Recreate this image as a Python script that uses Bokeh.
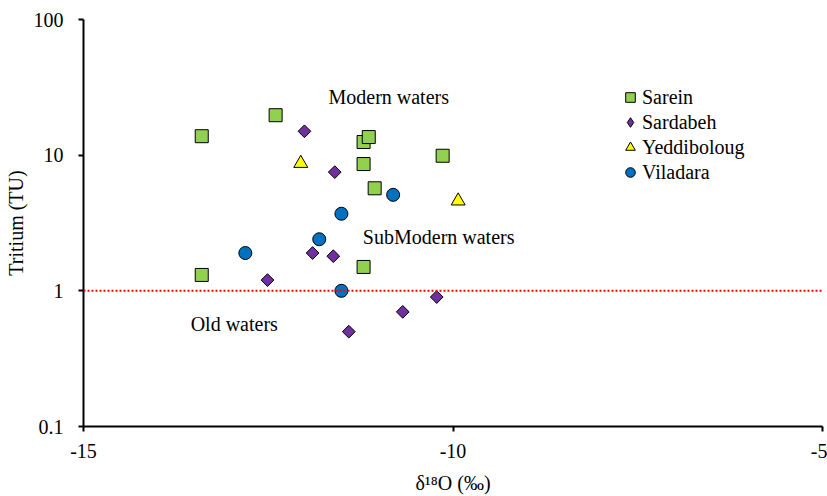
from bokeh.plotting import figure
from bokeh.models import Range1d, FixedTicker, NumeralTickFormatter, Legend, LegendItem, Span, ColumnDataSource
from bokeh.core.properties import value
from bokeh.embed import file_html
from bokeh.resources import INLINE
import math

FONT = "Liberation Serif"

sarein_x = [-13.40, -12.40, -11.21, -11.14, -11.21, -11.06, -10.14, -13.40, -11.21]
sarein_y = [13.8, 19.7, 12.5, 13.6, 8.6, 5.7, 9.9, 1.31, 1.5]

sardabeh_x = [-12.01, -11.60, -11.90, -11.62, -12.51, -10.22, -10.68, -11.41]
sardabeh_y = [15.0, 7.5, 1.9, 1.8, 1.2, 0.9, 0.70, 0.50]

yeddi_x = [-12.06, -9.93]
yeddi_y = [8.7, 4.6]

vila_x = [-10.81, -11.51, -11.81, -12.81, -11.51]
vila_y = [5.1, 3.7, 2.4, 1.9, 1.0]

threshold = 1.0

zone_labels = ["Modern waters", "SubModern waters", "Old waters"]
zone_x = [-11.685, -11.22, -13.55]
zone_y = [26.7, 2.5, 0.57]

x_ticks = [-15, -10, -5]
y_ticks = [0.1, 1, 10, 100]

p = figure(width=827, height=496, output_backend="svg", toolbar_location=None,
           x_range=Range1d(-15, -5), y_range=Range1d(0.1, 100), y_axis_type="log",
           min_border_left=83, min_border_right=5, min_border_top=19, min_border_bottom=69)
p.outline_line_color = None
p.xgrid.visible = False
p.ygrid.visible = False
p.background_fill_color = "white"
p.border_fill_color = "white"

for ax in (p.xaxis[0], p.yaxis[0]):
    ax.axis_line_width = 2
    ax.axis_line_color = "black"
    ax.major_tick_line_width = 2
    ax.major_tick_line_color = "black"
    ax.major_tick_out = 5
    ax.major_tick_in = 0
    ax.minor_tick_line_color = None
    ax.major_label_text_font = FONT
    ax.major_label_text_font_size = "20px"
    ax.major_label_text_color = "black"
    ax.axis_label_text_font = FONT
    ax.axis_label_text_font_size = "20px"
    ax.axis_label_text_font_style = "normal"
    ax.axis_label_text_color = "black"

p.xaxis.ticker = FixedTicker(ticks=x_ticks)
p.yaxis.ticker = FixedTicker(ticks=y_ticks)
p.xaxis.formatter = NumeralTickFormatter(format="0")
p.yaxis.formatter = NumeralTickFormatter(format="0.[0]")
p.xaxis.axis_label = "δ¹⁸O (‰)"
p.yaxis.axis_label = "Tritium (TU)"
p.xaxis.major_label_standoff = 12
p.yaxis.major_label_standoff = 15
p.xaxis.axis_label_standoff = 11
p.yaxis.axis_label_standoff = 4

p.add_layout(Span(location=threshold, dimension="width", line_color="red",
                  line_width=2, line_dash="2 2"))

r1 = p.scatter(sarein_x, sarein_y, marker="square", size=13, fill_color="#92D050",
               line_color="black", line_width=1)
r2 = p.scatter(sardabeh_x, sardabeh_y, marker="square", size=9, angle=math.pi / 4,
               fill_color="#7030A0", line_color="black", line_width=1)
r3 = p.scatter(yeddi_x, yeddi_y, marker="triangle", size=14, fill_color="#FFFF00",
               line_color="black", line_width=1)
r4 = p.scatter(vila_x, vila_y, marker="circle", size=13, fill_color="#0070C0",
               line_color="black", line_width=1)
# legend-only renderer for the diamond key (no visible point)
r2_key = p.scatter(x="x", y="y", source=ColumnDataSource(data=dict(x=[float("nan")], y=[float("nan")])),
                   marker="diamond", size=9, fill_color="#7030A0", line_color="black",
                   line_width=1)

p.text(zone_x, zone_y, text=zone_labels, text_font=value(FONT), text_font_size="20px",
       text_color="black", text_baseline="middle", text_align="left")

legend = Legend(items=[LegendItem(label="Sarein", renderers=[r1]),
                       LegendItem(label="Sardabeh", renderers=[r2_key]),
                       LegendItem(label="Yeddiboloug", renderers=[r3]),
                       LegendItem(label="Viladara", renderers=[r4])],
                location=(535, 242))
legend.border_line_color = None
legend.background_fill_alpha = 0
legend.padding = 0
legend.margin = 0
legend.spacing = 1
legend.glyph_width = 24
legend.glyph_height = 24
legend.label_standoff = 0
legend.label_text_font = FONT
legend.label_text_font_size = "20px"
legend.label_text_color = "black"
p.add_layout(legend)

open("out.html", "w").write(file_html(p, INLINE))
